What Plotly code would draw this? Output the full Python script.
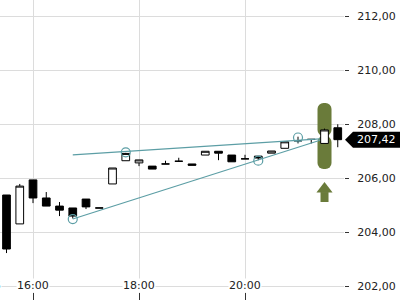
import plotly.graph_objects as go
import pandas as pd

# ---- data ----
day = "2025-01-15"
times = pd.date_range(f"{day} 15:30", f"{day} 21:45", freq="15min")
opens  = [205.37, 204.30, 205.93, 205.26, 204.96, 204.89, 205.22, 204.89, 205.78, 206.64,
          206.56, 206.44, 206.52, 206.62, 206.52, 206.85, 206.99, 206.85, 206.71, 206.81,
          206.92, 207.10, 207.38, 207.43, 207.28, 207.86]
highs  = [205.37, 205.78, 205.93, 205.48, 205.11, 204.89, 205.22, 204.89, 206.37, 206.93,
          206.67, 206.44, 206.64, 206.75, 206.52, 206.99, 206.99, 206.85, 206.86, 206.81,
          207.00, 207.34, 207.53, 207.43, 207.83, 207.99]
lows   = [203.22, 204.30, 205.07, 204.96, 204.59, 204.50, 204.85, 204.89, 205.78, 206.64,
          206.44, 206.33, 206.52, 206.62, 206.47, 206.85, 206.66, 206.60, 206.71, 206.66,
          206.92, 207.10, 207.28, 207.28, 207.28, 207.14]
closes = [203.37, 205.70, 205.26, 204.96, 204.81, 204.59, 204.93, 204.89, 206.37, 206.91,
          206.67, 206.33, 206.52, 206.62, 206.47, 206.99, 206.92, 206.60, 206.71, 206.74,
          207.00, 207.34, 207.38, 207.43, 207.78, 207.42]

# trend lines (start, end)
upper_line_times  = [f"{day} 16:45", f"{day} 21:25"]
upper_line_prices = [206.86, 207.45]
lower_line_times  = [f"{day} 16:45", f"{day} 21:25"]
lower_line_prices = [204.48, 207.40]

# pivot circles
pivot_times  = [f"{day} 16:45", f"{day} 17:45", f"{day} 20:15", f"{day} 21:00"]
pivot_prices = [204.48, 206.95, 206.64, 207.50]

# signal highlight
signal_time = f"{day} 21:30"
signal_low, signal_high = 206.33, 208.78
arrow_tip_price, arrow_head_base, arrow_bottom = 205.59, 205.48, 205.11

y_ticks = [202, 204, 206, 208, 210, 212]
x_tick_times = [f"{day} 16:00", f"{day} 18:00", f"{day} 20:00"]
x_tick_labels = ["16:00", "18:00", "20:00"]

last_close = closes[-1]

# ---- style ----
FONT = "DejaVu Sans"
TEAL = "#5c9ea5"
OLIVE = "#6a7b3a"
GRID = "#dcdcdc"
px_per_unit = 27.0
px_per_ms = 53.0 / 3600000.0
pill_width_ms = 14 / px_per_ms

fig = go.Figure()

# signal pill (two bars from the middle, each rounded at its outer end)
mid = (signal_low + signal_high) / 2
half = (signal_high - signal_low) / 2
fig.add_trace(go.Bar(x=[signal_time, signal_time], y=[half, -half], base=[mid, mid],
                     width=[pill_width_ms, pill_width_ms],
                     marker=dict(color=OLIVE, line=dict(width=0), cornerradius=6),
                     hoverinfo="skip"))
# arrow
fig.add_trace(go.Scatter(
    x=[signal_time, signal_time], y=[arrow_head_base, arrow_bottom],
    mode="lines", line=dict(color=OLIVE, width=8), hoverinfo="skip"))
fig.add_trace(go.Scatter(
    x=[signal_time], y=[arrow_tip_price], mode="markers",
    marker=dict(symbol="triangle-up", color=OLIVE, size=14, line=dict(width=0)),
    hoverinfo="skip"))

# trend lines
fig.add_trace(go.Scatter(x=upper_line_times, y=upper_line_prices, mode="lines",
                         line=dict(color=TEAL, width=1.2), hoverinfo="skip"))
fig.add_trace(go.Scatter(x=lower_line_times, y=lower_line_prices, mode="lines",
                         line=dict(color=TEAL, width=1.2), hoverinfo="skip"))

# candles
fig.add_trace(go.Candlestick(
    x=times, open=opens, high=highs, low=lows, close=closes,
    increasing=dict(fillcolor="white", line=dict(color="black", width=1)),
    decreasing=dict(fillcolor="black", line=dict(color="black", width=1)),
    whiskerwidth=0, hoverinfo="skip"))

# pivots
fig.add_trace(go.Scatter(x=pivot_times, y=pivot_prices, mode="markers",
                         marker=dict(symbol="circle-open", size=9, color=TEAL,
                                     line=dict(color=TEAL, width=1.2)),
                         hoverinfo="skip"))

annotations = []
for t, lab in zip(x_tick_times, x_tick_labels):
    annotations.append(dict(x=t, xref="x", y=0, yref="paper", yanchor="bottom",
                            yshift=7, text=lab, showarrow=False, bgcolor="white",
                            borderpad=0, font=dict(family=FONT, size=11, color="#222")))
annotations.append(dict(x=0, xref="paper", xanchor="right", xshift=2, y=0, yref="paper",
                        yanchor="bottom", yshift=7, text="15", showarrow=False,
                        bgcolor="white", borderpad=0,
                        font=dict(family=FONT, size=11, color="#222")))
annotations.append(dict(x=1, xref="paper", xanchor="left", xshift=11, y=last_close, yref="y",
                        text=f"{last_close:.2f}".replace(".", ","), showarrow=False,
                        font=dict(family=FONT, size=11, color="white")))

shapes = [dict(type="path", xref="paper", xsizemode="pixel", xanchor=1,
               yref="y", ysizemode="pixel", yanchor=last_close,
               path="M1,0 L9,8 L56,8 L56,-8 L9,-8 Z",
               fillcolor="black", line=dict(width=0), layer="above")]

fig.update_layout(
    width=400, height=300, margin=dict(l=0, r=56, t=0, b=0),
    paper_bgcolor="white", plot_bgcolor="white", showlegend=False,
    separators=",.", hovermode=False, barmode="overlay",
    annotations=annotations, shapes=shapes,
    boxgap=0.17,
    xaxis=dict(type="date", range=[f"{day} 15:22:38", f"{day} 21:52:04"],
               showgrid=True, gridcolor=GRID, gridwidth=1,
               tick0=f"{day} 00:00", dtick=2 * 3600 * 1000,
               ticks="inside", ticklen=7, tickcolor="#333", tickwidth=1,
               showticklabels=False, showline=False, zeroline=False,
               rangeslider=dict(visible=False), fixedrange=True),
    yaxis=dict(side="right", range=[202 - 14 / px_per_unit, 212 + 16 / px_per_unit],
               autorange=False, tickvals=y_ticks, tickformat=".2f",
               showgrid=True, gridcolor=GRID, gridwidth=1,
               ticks="outside", ticklen=4, tickcolor="#333", tickwidth=1,
               ticklabelstandoff=6,
               tickfont=dict(family=FONT, size=11, color="#222"),
               showline=False, zeroline=False, fixedrange=True),
)

fig.write_html("out.html")
